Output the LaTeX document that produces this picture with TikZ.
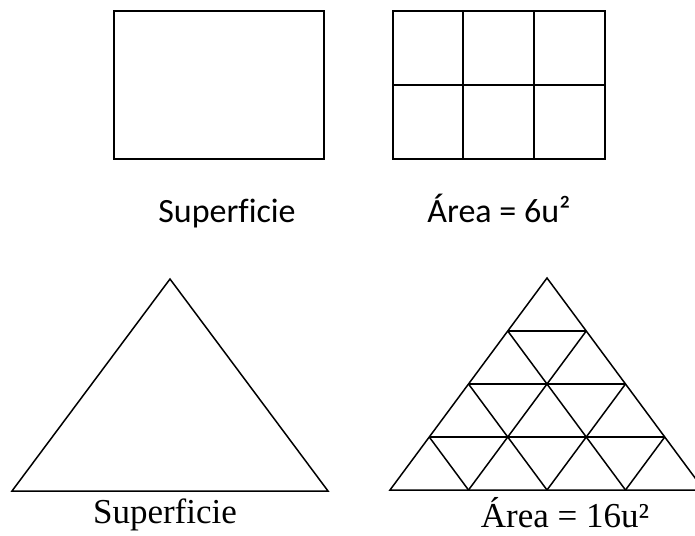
\documentclass[tikz,border=0pt]{standalone}
\usepackage{fontspec}
\setmainfont[Ligatures=NoCommon]{Liberation Serif}
\newfontfamily\calibrifont[Ligatures=NoCommon]{Carlito}
\usetikzlibrary{calc}

\tikzset{
  shape line/.style={line width=1.5pt, black},
  sans label/.style={anchor=base, inner sep=0pt, text depth=0pt, font=\calibrifont\fontsize{34}{40}\selectfont},
  serif label/.style={anchor=base, inner sep=0pt, text depth=0pt, font=\fontsize{35}{42}\selectfont}
}

\begin{document}
\begin{tikzpicture}[x=1pt, y=-1pt]
	\path[use as bounding box, clip] (0,0) rectangle (695,535);

	% Plain rectangle
	\draw[shape line] (114,11) rectangle (324,159);

	% Rectangle split in six units
	\draw[shape line] (393,11) rectangle (605,159);
	\draw[shape line] (393,85) -- (605,85);
	\draw[shape line] (463,11) -- (463,159);
	\draw[shape line] (534,11) -- (534,159);

	% Labels
	\node[sans label] (supA) at (227,222) {Superficie};
	\node[sans label] (areaA) at (499,222) {Área = 6u²};

	% Plain triangle
	\draw[shape line] (12,491) -- (170,279) -- (328,491) -- cycle;

	% Triangle split in sixteen units
	\coordinate (L) at (390,490);
	\coordinate (R) at (704,490);
	\coordinate (T) at (547,278);
	\draw[shape line] (L) -- (T) -- (R) -- cycle;
	\foreach \j in {1,2,3} {
		\draw[shape line] ($(L)!\j/4!(T)$) -- ($(R)!\j/4!(T)$);
		\draw[shape line] ($(L)!\j/4!(R)$) -- ($(R)!1-\j/4!(T)$);
		\draw[shape line] ($(L)!\j/4!(R)$) -- ($(L)!\j/4!(T)$);
	}

	% Labels
	\node[serif label] (supB) at (165,523) {Superficie};
	\node[serif label] (areaB) at (565,527) {Área = 16u²};
\end{tikzpicture}
\end{document}
